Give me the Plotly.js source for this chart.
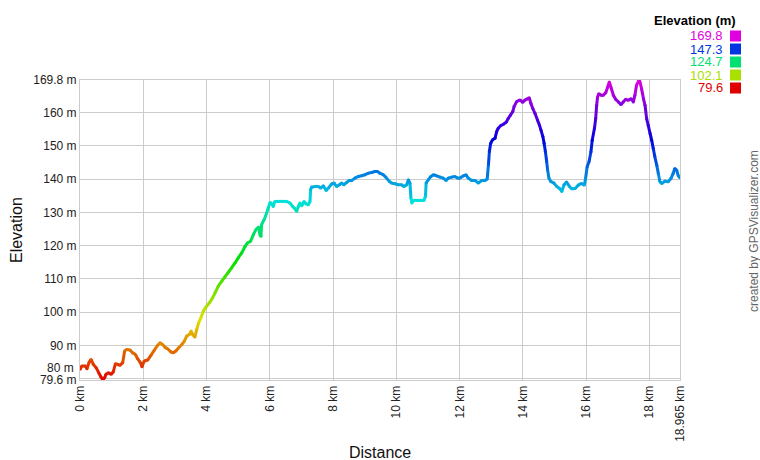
<!DOCTYPE html>
<html>
<head>
<meta charset="utf-8">
<script src="https://cdn.plot.ly/plotly-3.0.1.min.js"></script>
<style>
html,body{margin:0;padding:0;background:#fff;}
#chart{width:760px;height:460px;}
</style>
</head>
<body>
<div id="chart"></div>
<script>
// Distance along track (km)
const distanceKm = [
  0, 0.06, 0.17, 0.22, 0.29, 0.35, 0.42, 0.51, 0.59, 0.66,
  0.72, 0.78, 0.82, 0.90, 0.98, 1.05, 1.12, 1.19, 1.26, 1.35,
  1.41, 1.48, 1.58, 1.66, 1.75, 1.82, 1.90, 1.96, 2.03, 2.14,
  2.24, 2.35, 2.45, 2.53, 2.61, 2.70, 2.77, 2.88, 2.95, 3.03,
  3.12, 3.22, 3.30, 3.37, 3.46, 3.51, 3.56, 3.63, 3.69, 3.75,
  3.82, 3.90, 4.00, 4.09, 4.19, 4.27, 4.37, 4.48, 4.58, 4.69,
  4.79, 4.90, 5.00, 5.11, 5.22, 5.29, 5.39, 5.48, 5.56, 5.64,
  5.69, 5.72, 5.74, 5.82, 5.90, 5.95, 6.01, 6.06, 6.11, 6.16,
  6.27, 6.53, 6.64, 6.72, 6.80, 6.85, 6.90, 6.95, 7.01, 7.08,
  7.14, 7.22, 7.27, 7.29, 7.32, 7.43, 7.53, 7.61, 7.69, 7.78,
  7.85, 7.96, 8.03, 8.11, 8.20, 8.27, 8.34, 8.43, 8.51, 8.59,
  8.69, 8.80, 8.90, 9.01, 9.11, 9.22, 9.32, 9.40, 9.48, 9.59,
  9.69, 9.78, 9.85, 9.96, 10.06, 10.17, 10.24, 10.33, 10.38, 10.43,
  10.46, 10.49, 10.54, 10.69, 10.87, 10.92, 10.94, 11.01, 11.09, 11.17,
  11.27, 11.38, 11.48, 11.57, 11.64, 11.75, 11.85, 11.93, 12.01, 12.12,
  12.20, 12.27, 12.38, 12.49, 12.59, 12.70, 12.80, 12.87, 12.91, 12.94,
  12.98, 13.04, 13.12, 13.17, 13.22, 13.30, 13.38, 13.47, 13.54, 13.61,
  13.68, 13.72, 13.80, 13.91, 13.99, 14.07, 14.14, 14.20, 14.25, 14.31,
  14.38, 14.46, 14.52, 14.57, 14.63, 14.67, 14.71, 14.75, 14.78, 14.82,
  14.88, 14.98, 15.07, 15.17, 15.23, 15.30, 15.38, 15.47, 15.54, 15.65,
  15.75, 15.84, 15.94, 15.98, 16.03, 16.09, 16.15, 16.19, 16.26, 16.30,
  16.33, 16.36, 16.40, 16.47, 16.54, 16.62, 16.68, 16.73, 16.78, 16.86,
  16.93, 17.02, 17.10, 17.17, 17.25, 17.33, 17.42, 17.49, 17.54, 17.59,
  17.67, 17.70, 17.75, 17.81, 17.86, 17.91, 17.96, 18.02, 18.07, 18.12,
  18.17, 18.23, 18.28, 18.33, 18.39, 18.49, 18.59, 18.68, 18.75, 18.80,
  18.86, 18.91, 18.965
];

// Elevation (m)
const elevationM = [
  82.8, 83.8, 83.8, 83.0, 85.0, 85.8, 84.3, 83.3, 81.8, 80.6,
  79.6, 80.3, 81.3, 81.8, 81.3, 82.0, 84.5, 84.3, 84.0, 84.8,
  88.3, 88.8, 88.6, 87.8, 87.3, 86.0, 85.0, 83.6, 85.3, 85.6,
  87.0, 88.6, 90.0, 90.8, 90.3, 89.3, 89.0, 88.0, 87.8, 88.3,
  89.3, 90.3, 91.3, 92.8, 93.3, 94.3, 93.3, 92.5, 94.8, 96.8,
  98.3, 100.3, 101.8, 102.8, 104.3, 105.8, 107.8, 109.3, 110.6, 112.0,
  113.3, 114.8, 116.3, 117.8, 119.8, 120.8, 121.3, 123.3, 124.8, 125.6,
  123.3, 122.8, 126.3, 127.8, 129.8, 131.3, 133.0, 132.6, 131.8, 133.3,
  133.3, 133.3, 132.8, 131.8, 131.0, 130.3, 131.8, 132.8, 132.0, 133.3,
  132.6, 132.3, 133.3, 136.8, 137.6, 137.8, 137.8, 137.3, 138.0, 136.6,
  137.3, 138.6, 138.8, 137.8, 138.3, 138.8, 138.3, 139.0, 139.6, 139.6,
  140.3, 140.8, 141.0, 141.3, 141.8, 142.0, 142.3, 142.3, 141.8, 141.3,
  140.3, 139.3, 138.8, 138.6, 138.3, 138.3, 137.8, 138.3, 139.8, 138.8,
  134.3, 132.8, 133.6, 133.6, 133.6, 134.8, 138.8, 139.8, 140.8, 141.3,
  141.0, 140.6, 140.3, 139.6, 140.3, 140.6, 140.8, 140.3, 140.3, 141.0,
  141.3, 140.3, 139.6, 139.6, 138.8, 139.6, 139.6, 140.0, 144.3, 148.3,
  150.8, 151.8, 152.3, 154.3, 155.3, 156.1, 156.5, 157.1, 158.3, 159.3,
  160.3, 161.8, 163.3, 163.8, 163.1, 163.8, 164.1, 164.5, 162.8, 161.3,
  159.8, 157.8, 156.3, 154.8, 152.8, 150.8, 148.3, 145.3, 142.8, 140.3,
  139.3, 138.8, 137.8, 137.1, 136.3, 138.3, 139.1, 137.8, 137.1, 137.2,
  138.2, 138.7, 138.2, 140.2, 143.7, 145.2, 148.2, 151.7, 155.2, 158.2,
  162.2, 164.7, 165.7, 165.2, 165.2, 166.0, 167.7, 169.2, 167.7, 165.2,
  164.0, 163.2, 162.4, 163.2, 164.0, 163.7, 164.2, 163.2, 165.2, 168.2,
  169.8, 169.2, 167.2, 164.2, 162.2, 158.2, 156.2, 153.7, 151.7, 149.2,
  146.7, 144.2, 141.7, 139.2, 138.7, 139.4, 139.2, 140.2, 141.7, 143.2,
  142.7, 141.0, 140.4
];

// Axis ticks
const xTickVals = [0, 2, 4, 6, 8, 10, 12, 14, 16, 18, 18.965];
const xTickText = ['0 km','2 km','4 km','6 km','8 km','10 km','12 km','14 km','16 km','18 km','18.965 km'];
const yTickVals = [79.6, 80, 90, 100, 110, 120, 130, 140, 150, 160, 169.8];
const yTickText = ['79.6 m','', '90 m','100 m','110 m','120 m','130 m','140 m','150 m','160 m','169.8 m'];

// Colour legend values
const legendValues = [169.8, 147.3, 124.7, 102.1, 79.6];
const elevMin = 79.6, elevMax = 169.8;

function elevColor(e) {
  let t = (e - elevMin) / (elevMax - elevMin);
  t = Math.max(0, Math.min(1, t));
  const h = 300 * t, v = 0.88;
  const hp = h / 60, x = v * (1 - Math.abs(hp % 2 - 1));
  let r=0,g=0,b=0;
  if (hp < 1) { r=v; g=x; }
  else if (hp < 2) { r=x; g=v; }
  else if (hp < 3) { g=v; b=x; }
  else if (hp < 4) { g=x; b=v; }
  else if (hp < 5) { r=x; b=v; }
  else { r=v; b=x; }
  const f = c => Math.round(c*255);
  return 'rgb(' + f(r) + ',' + f(g) + ',' + f(b) + ')';
}

const traces = [];
for (let i = 0; i < distanceKm.length - 1; i++) {
  const mid = (elevationM[i] + elevationM[i+1]) / 2;
  traces.push({
    type: 'scatter', mode: 'lines',
    x: [distanceKm[i], distanceKm[i+1]],
    y: [elevationM[i], elevationM[i+1]],
    line: {color: elevColor(mid), width: 3},
    hoverinfo: 'skip', showlegend: false
  });
}
traces.push({
  type: 'scatter', mode: 'markers',
  x: distanceKm, y: elevationM,
  marker: {size: 3, color: elevationM.map(elevColor)},
  hoverinfo: 'skip', showlegend: false
});

const font = 'Arial, "Liberation Sans", sans-serif';
const L = 80, T = 80, W = 600, H = 300;
const px2x = p => (p - L) / W;
const py2y = p => (T + H - p) / H;

const annotations = [
  {text: 'Elevation', xref: 'paper', yref: 'paper', x: px2x(16), y: 0.5, textangle: -90,
   showarrow: false, font: {family: font, size: 16, color: '#111'}, xanchor: 'center', yanchor: 'middle'},
  {text: 'Distance', xref: 'paper', yref: 'paper', x: 0.5, y: py2y(452),
   showarrow: false, font: {family: font, size: 16, color: '#111'}, xanchor: 'center', yanchor: 'middle'},
  {text: '80 m', xref: 'paper', yref: 'y', x: px2x(76), y: 80, yshift: 11,
   showarrow: false, font: {family: font, size: 12, color: '#222'}, xanchor: 'right', yanchor: 'middle'},
  {text: 'created by GPSVisualizer.com', xref: 'paper', yref: 'paper', x: px2x(754), y: py2y(231),
   textangle: -90, showarrow: false, font: {family: font, size: 12, color: '#666'}, xanchor: 'center', yanchor: 'middle'},
  {text: '<b>Elevation (m)</b>', xref: 'paper', yref: 'paper', x: px2x(738), y: py2y(21),
   showarrow: false, font: {family: font, size: 13, color: '#000'}, xanchor: 'right', yanchor: 'middle'}
];
const shapes = [];
legendValues.forEach((v, i) => {
  const cy = 36 + i * 13;
  annotations.push({text: v.toFixed(1), xref: 'paper', yref: 'paper', x: px2x(725), y: py2y(cy),
    showarrow: false, font: {family: font, size: 13, color: elevColor(v)}, xanchor: 'right', yanchor: 'middle'});
  shapes.push({type: 'rect', xref: 'paper', yref: 'paper', x0: px2x(730), x1: px2x(741),
    y0: py2y(cy + 5.5), y1: py2y(cy - 5.5), fillcolor: elevColor(v), line: {width: 0}});
});

const layout = {
  width: 760, height: 460,
  margin: {l: L, r: 80, t: T, b: 80, pad: 0},
  paper_bgcolor: '#fff', plot_bgcolor: '#fff',
  showlegend: false,
  font: {family: font, size: 12, color: '#222'},
  xaxis: {
    range: [0, 18.965], tickvals: xTickVals, ticktext: xTickText, tickangle: -90,
    showgrid: true, gridcolor: '#cccccc', gridwidth: 1, zeroline: false,
    showline: true, linecolor: '#cccccc', mirror: true, ticks: '',
    tickfont: {family: font, size: 12, color: '#222'}, automargin: false
  },
  yaxis: {
    range: [79.6, 169.8], tickvals: yTickVals, ticktext: yTickText,
    showgrid: true, gridcolor: '#cccccc', gridwidth: 1, zeroline: false,
    showline: true, linecolor: '#cccccc', mirror: true, ticks: '',
    tickfont: {family: font, size: 12, color: '#222'}, automargin: false
  },
  annotations: annotations,
  shapes: shapes
};

Plotly.newPlot('chart', traces, layout, {staticPlot: true, displayModeBar: false});
</script>
</body>
</html>
